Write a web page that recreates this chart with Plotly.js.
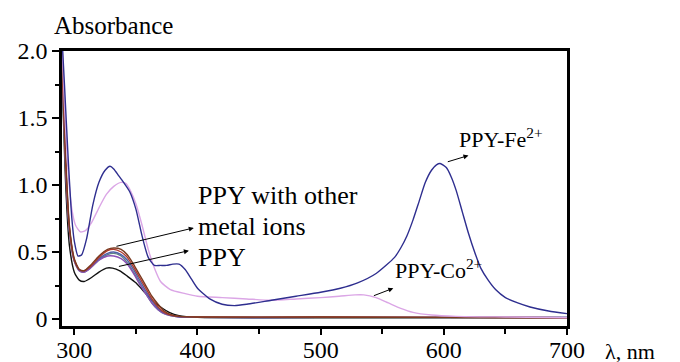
<!DOCTYPE html>
<html><head><meta charset="utf-8">
<script src="https://cdn.plot.ly/plotly-3.0.1.min.js"></script>
<style>html,body{margin:0;padding:0;background:#fff}#chart{width:680px;height:362px}
#chart svg text{font-family:'Liberation Serif','Times New Roman',serif !important;}</style>
</head><body><div id="chart"></div>
<script>
// wavelength (nm) and absorbance readings per spectrum
const wlFe  = [290,292,295,298,300,303,306,310,315,320,325,329,332,336,340,345,350,355,360,365,370,375,380,385,390,395,400,410,420,430,440,460,480,500,516,530,545,560,565,570,575,580,585,590,594,597,602,606,610,615,620,625,630,636,642,650,660,670,685,700];
const absFe = [2.10,1.75,1.20,0.75,0.58,0.47,0.48,0.60,0.85,1.02,1.11,1.14,1.12,1.07,1.02,0.95,0.82,0.62,0.46,0.40,0.40,0.40,0.41,0.41,0.37,0.30,0.23,0.15,0.11,0.10,0.11,0.14,0.17,0.20,0.23,0.27,0.34,0.46,0.53,0.62,0.74,0.88,1.02,1.11,1.15,1.16,1.13,1.06,0.96,0.80,0.64,0.50,0.38,0.29,0.22,0.16,0.12,0.09,0.06,0.04];

const wlCo  = [290,292,295,298,301,305,309,314,320,326,332,338,342,346,350,355,360,365,370,378,390,400,420,440,460,480,500,515,528,535,545,555,565,575,590,610,650,700];
const absCo = [2.05,1.60,1.10,0.82,0.70,0.65,0.66,0.72,0.83,0.93,0.99,1.02,1.01,0.95,0.86,0.70,0.52,0.38,0.28,0.22,0.19,0.17,0.16,0.15,0.14,0.15,0.16,0.17,0.18,0.18,0.16,0.12,0.08,0.05,0.03,0.02,0.015,0.01];

const wlM = [290,293,296,300,304,308,313,320,327,332,338,343,348,353,358,363,368,373,378,385,400,500,600,700];
const absM1 = [1.95,1.20,0.70,0.45,0.37,0.36,0.40,0.47,0.52,0.53,0.52,0.48,0.41,0.33,0.25,0.17,0.11,0.06,0.035,0.02,0.015,0.015,0.012,0.01];
const absM2 = [1.90,1.15,0.68,0.44,0.37,0.36,0.39,0.46,0.51,0.52,0.50,0.46,0.39,0.31,0.23,0.15,0.09,0.05,0.03,0.02,0.015,0.015,0.012,0.01];
const absM3 = [1.85,1.10,0.66,0.43,0.36,0.35,0.38,0.44,0.48,0.49,0.47,0.42,0.35,0.27,0.19,0.12,0.07,0.04,0.025,0.015,0.012,0.012,0.012,0.012];
const absM4 = [1.90,1.12,0.66,0.43,0.36,0.35,0.38,0.44,0.47,0.47,0.45,0.41,0.34,0.26,0.19,0.12,0.07,0.04,0.025,0.015,0.012,0.012,0.012,0.012];
const absM5 = [1.95,1.18,0.68,0.44,0.37,0.36,0.39,0.45,0.49,0.50,0.48,0.44,0.37,0.29,0.21,0.14,0.08,0.045,0.03,0.018,0.012,0.012,0.012,0.012];

const wlP  = [290,293,296,300,304,308,314,320,326,331,337,343,350,357,364,370,377,385,400,500,600,700];
const absP = [1.85,1.00,0.55,0.35,0.29,0.28,0.31,0.35,0.38,0.38,0.36,0.32,0.27,0.20,0.13,0.09,0.05,0.025,0.012,0.01,0.01,0.01];

const xTicks = [300,400,500,600,700];
const yTicks = [0,0.5,1.0,1.5,2.0];
const yTickText = ["0","0.5","1.0","1.5","2.0"];

const serifFam = "Liberation Serif";
function tr(x,y,c,w){return {x:x,y:y,type:'scatter',mode:'lines',line:{color:c,width:w||1.4,shape:'spline',smoothing:0.6},hoverinfo:'skip'};}
const data = [
  tr(wlP,absP,'#111111'),
  tr(wlM,absM3,'#5f8585'),
  tr(wlM,absM4,'#8a4fb5'),
  tr(wlM,absM5,'#4f5fa8'),
  tr(wlM,absM2,'#b03a2e'),
  tr(wlM,absM1,'#7b3a20'),
  tr(wlCo,absCo,'#dba6e6'),
  tr(wlFe,absFe,'#2e2e8f')
];
const ann = (x,y,ax,ay)=>({x:x,y:y,ax:ax,ay:ay,xref:'x',yref:'y',axref:'x',ayref:'y',text:'',showarrow:true,arrowhead:2,arrowsize:1,arrowwidth:1,arrowcolor:'#000',standoff:0,startstandoff:0});
const txt = (x,y,t,size,xa,refs)=>({xref:refs||'x',yref:refs||'y',x:x,y:y,text:t,showarrow:false,xanchor:xa||'left',yanchor:'middle',font:{family:serifFam,size:size,color:'#000'}});
const layout = {
  width:680,height:362,
  margin:{l:62,r:113,t:51,b:36},
  paper_bgcolor:'#fff',plot_bgcolor:'#fff',
  showlegend:false,
  font:{family:serifFam,size:24,color:'#000'},
  xaxis:{range:[290,700],tickvals:xTicks,ticks:'outside',ticklen:6,tickwidth:2,tickcolor:'#000',
    showline:true,linewidth:2.5,linecolor:'#000',mirror:true,showgrid:false,zeroline:false,
    tickfont:{family:serifFam,size:24,color:'#000'},ticklabelstandoff:-6,
    minor:{tickvals:[350,450,550,650],ticks:'outside',ticklen:5,tickwidth:1.5,tickcolor:'#000'}},
  yaxis:{range:[-0.052,2.0],tickvals:yTicks,ticktext:yTickText,ticks:'outside',ticklen:7,tickwidth:2,tickcolor:'#000',
    showline:true,linewidth:2.5,linecolor:'#000',mirror:true,showgrid:false,zeroline:false,
    tickfont:{family:serifFam,size:24,color:'#000'},
    minor:{tickvals:[0.25,0.75,1.25,1.75],ticks:'outside',ticklen:4,tickwidth:1.5,tickcolor:'#000'}},
  annotations:[
    txt(0.101,1.094,'Absorbance',25,'center','paper'),
    txt(1.072,-0.091,'λ, nm',22,'left','paper'),
    txt(399,0.92,'PPY with other',26),
    txt(399,0.69,'metal ions',26),
    txt(399,0.46,'PPY',26),
    txt(611,1.35,'PPY-Fe<sup>2+</sup>',22),
    txt(559,0.37,'PPY-Co<sup>2+</sup>',22),
    ann(397,0.68,333,0.54),
    ann(393,0.51,335,0.39),
    ann(620,1.22,602,1.17),
    ann(559,0.23,542,0.17)
  ]
};
function draw(){ Plotly.newPlot('chart',data,layout,{displayModeBar:false}); }
if (document.fonts && document.fonts.load) {
  document.fonts.load('24px "Liberation Serif"').then(draw, draw);
} else { draw(); }
</script></body></html>
